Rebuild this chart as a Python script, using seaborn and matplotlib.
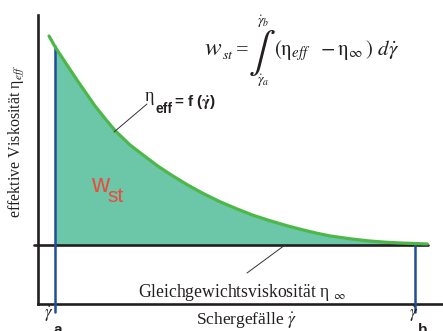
import matplotlib
matplotlib.use("Agg")
import matplotlib.pyplot as plt
import seaborn as sns
import numpy as np
import pandas as pd
from matplotlib.lines import Line2D

# ---- data (arbitrary units) ----
shear_rate = [2.72, 4.20, 6.92, 9.88, 11.86, 14.08, 16.55, 19.02, 22.73, 26.44,
              29.66, 33.12, 36.83, 40.78, 44.98, 49.18, 53.14, 57.34, 61.54,
              65.50, 68.96, 72.17, 77.11, 81.31, 85.76, 89.47, 96.14]
eta_eff = [92.73, 89.03, 83.22, 76.99, 73.01, 68.51, 64.19, 60.03, 55.02, 51.04,
           47.65, 44.46, 41.28, 38.24, 35.36, 32.87, 30.69, 28.79, 27.06,
           25.61, 24.46, 23.53, 22.56, 21.87, 21.38, 21.11, 20.76]
eta_inf = 20.3
gamma_a = 4.1
gamma_b = 93.1
eta_line_x = [-1.1, 96.4]

df = pd.DataFrame({"shear": shear_rate, "eta": eta_eff})

sns.set_theme(style="white")
plt.rcParams["font.family"] = ["Liberation Serif", "DejaVu Serif"]
plt.rcParams["mathtext.fontset"] = "stix"

W, H = 443, 331
fig = plt.figure(figsize=(W / 100, H / 100), dpi=100)
fig.patch.set_facecolor("white")
ax = fig.add_axes([38 / W, 27 / H, (W - 38) / W, 289 / H])
ax.set_xlim(0, 100)
ax.set_ylim(0, 100)
ax.set_facecolor("white")
for s in ["top", "right"]:
    ax.spines[s].set_visible(False)
for s in ["left", "bottom"]:
    ax.spines[s].set_color("#231f20")
    ax.spines[s].set_linewidth(1.9)
ax.set_xticks([])
ax.set_yticks([])

GREEN = "#4db848"
FILL = "#6cc6a8"
BLUE = "#1f4e9c"
RED = "#ee4a3a"
INK = "#231f20"

x = np.array(shear_rate)
y = np.array(eta_eff)
mask = x >= gamma_a
ax.fill_between(x[mask], y[mask], eta_inf, color=FILL, lw=0, zorder=1)

ax.plot(eta_line_x, [eta_inf, eta_inf], color=INK, lw=1.9, clip_on=False, zorder=2)

y_a = float(np.interp(gamma_a, x, y))
ax.plot([gamma_a, gamma_a], [-2.8, y_a], color=BLUE, lw=1.8, clip_on=False, zorder=3)
ax.plot([gamma_b, gamma_b], [-2.8, eta_inf + 0.5], color=BLUE, lw=1.8, clip_on=False, zorder=3)

sns.lineplot(data=df, x="shear", y="eta", sort=False, color=GREEN, lw=2.3,
             ax=ax, zorder=4, legend=False, solid_joinstyle="round",
             solid_capstyle="round")
ax.set_xlabel("")
ax.set_ylabel("")


def P(px, py):
    return (px / W, 1 - py / H)


def T(px, py, s, **kw):
    kw.setdefault("color", INK)
    kw.setdefault("va", "baseline")
    fig.text(*P(px, py), s, **kw)


SANS = "Liberation Sans"

# leader lines
for (x0, y0, x1, y1) in [(114, 132, 147, 104), (247, 273, 285, 245)]:
    fig.add_artist(Line2D([x0 / W, x1 / W], [1 - y0 / H, 1 - y1 / H],
                          transform=fig.transFigure, color="#333333", lw=0.7))

# y label
fig.text(*P(17, 141), "effektive Viskosität η$_{eff}$", rotation=90,
         ha="center", va="center", fontsize=11.5, color=INK)
# x label
T(246, 324.5, r"Schergefälle $\dot{\gamma}$", ha="center", fontsize=12.5)
# gamma a / b
T(44, 318, r"$\dot{\gamma}$", fontsize=12)
T(53, 334, "a", fontsize=11, family=SANS, weight="bold")
T(409, 318, r"$\dot{\gamma}$", fontsize=12)
T(418, 334, "b", fontsize=11, family=SANS, weight="bold")
# equilibrium label
T(138, 297, r"Gleichgewichtsviskosität η $_{\infty}$", fontsize=12.7)
# eta_eff = f(gamma)
T(145, 101, "η", fontsize=13)
T(156, 113, "eff", fontsize=10, family=SANS, weight="bold")
T(174, 106, r"= f ($\mathbf{\dot{\gamma}}$)", fontsize=11, family=SANS, weight="bold")
# w_st
T(91, 192, "w", fontsize=18, family=SANS, color=RED)
T(107, 202, "st", fontsize=15, family=SANS, color=RED)
# formula
T(204, 55, r"$w$", fontsize=18)
T(222, 59, r"$st$", fontsize=10)
T(236, 55, "=", fontsize=16)
T(262, 63, r"$\int$", fontsize=29, ha="center")
T(257, 25, r"$\dot{\gamma}_{b}$", fontsize=10)
T(257, 84, r"$\dot{\gamma}_{a}$", fontsize=10)
T(274, 55, r"$(\mathrm{\eta}_{eff}\ \ -\mathrm{\eta}_{\infty}\,)\ d\dot{\gamma}$", fontsize=15)

fig.savefig("out.png", dpi=100)
